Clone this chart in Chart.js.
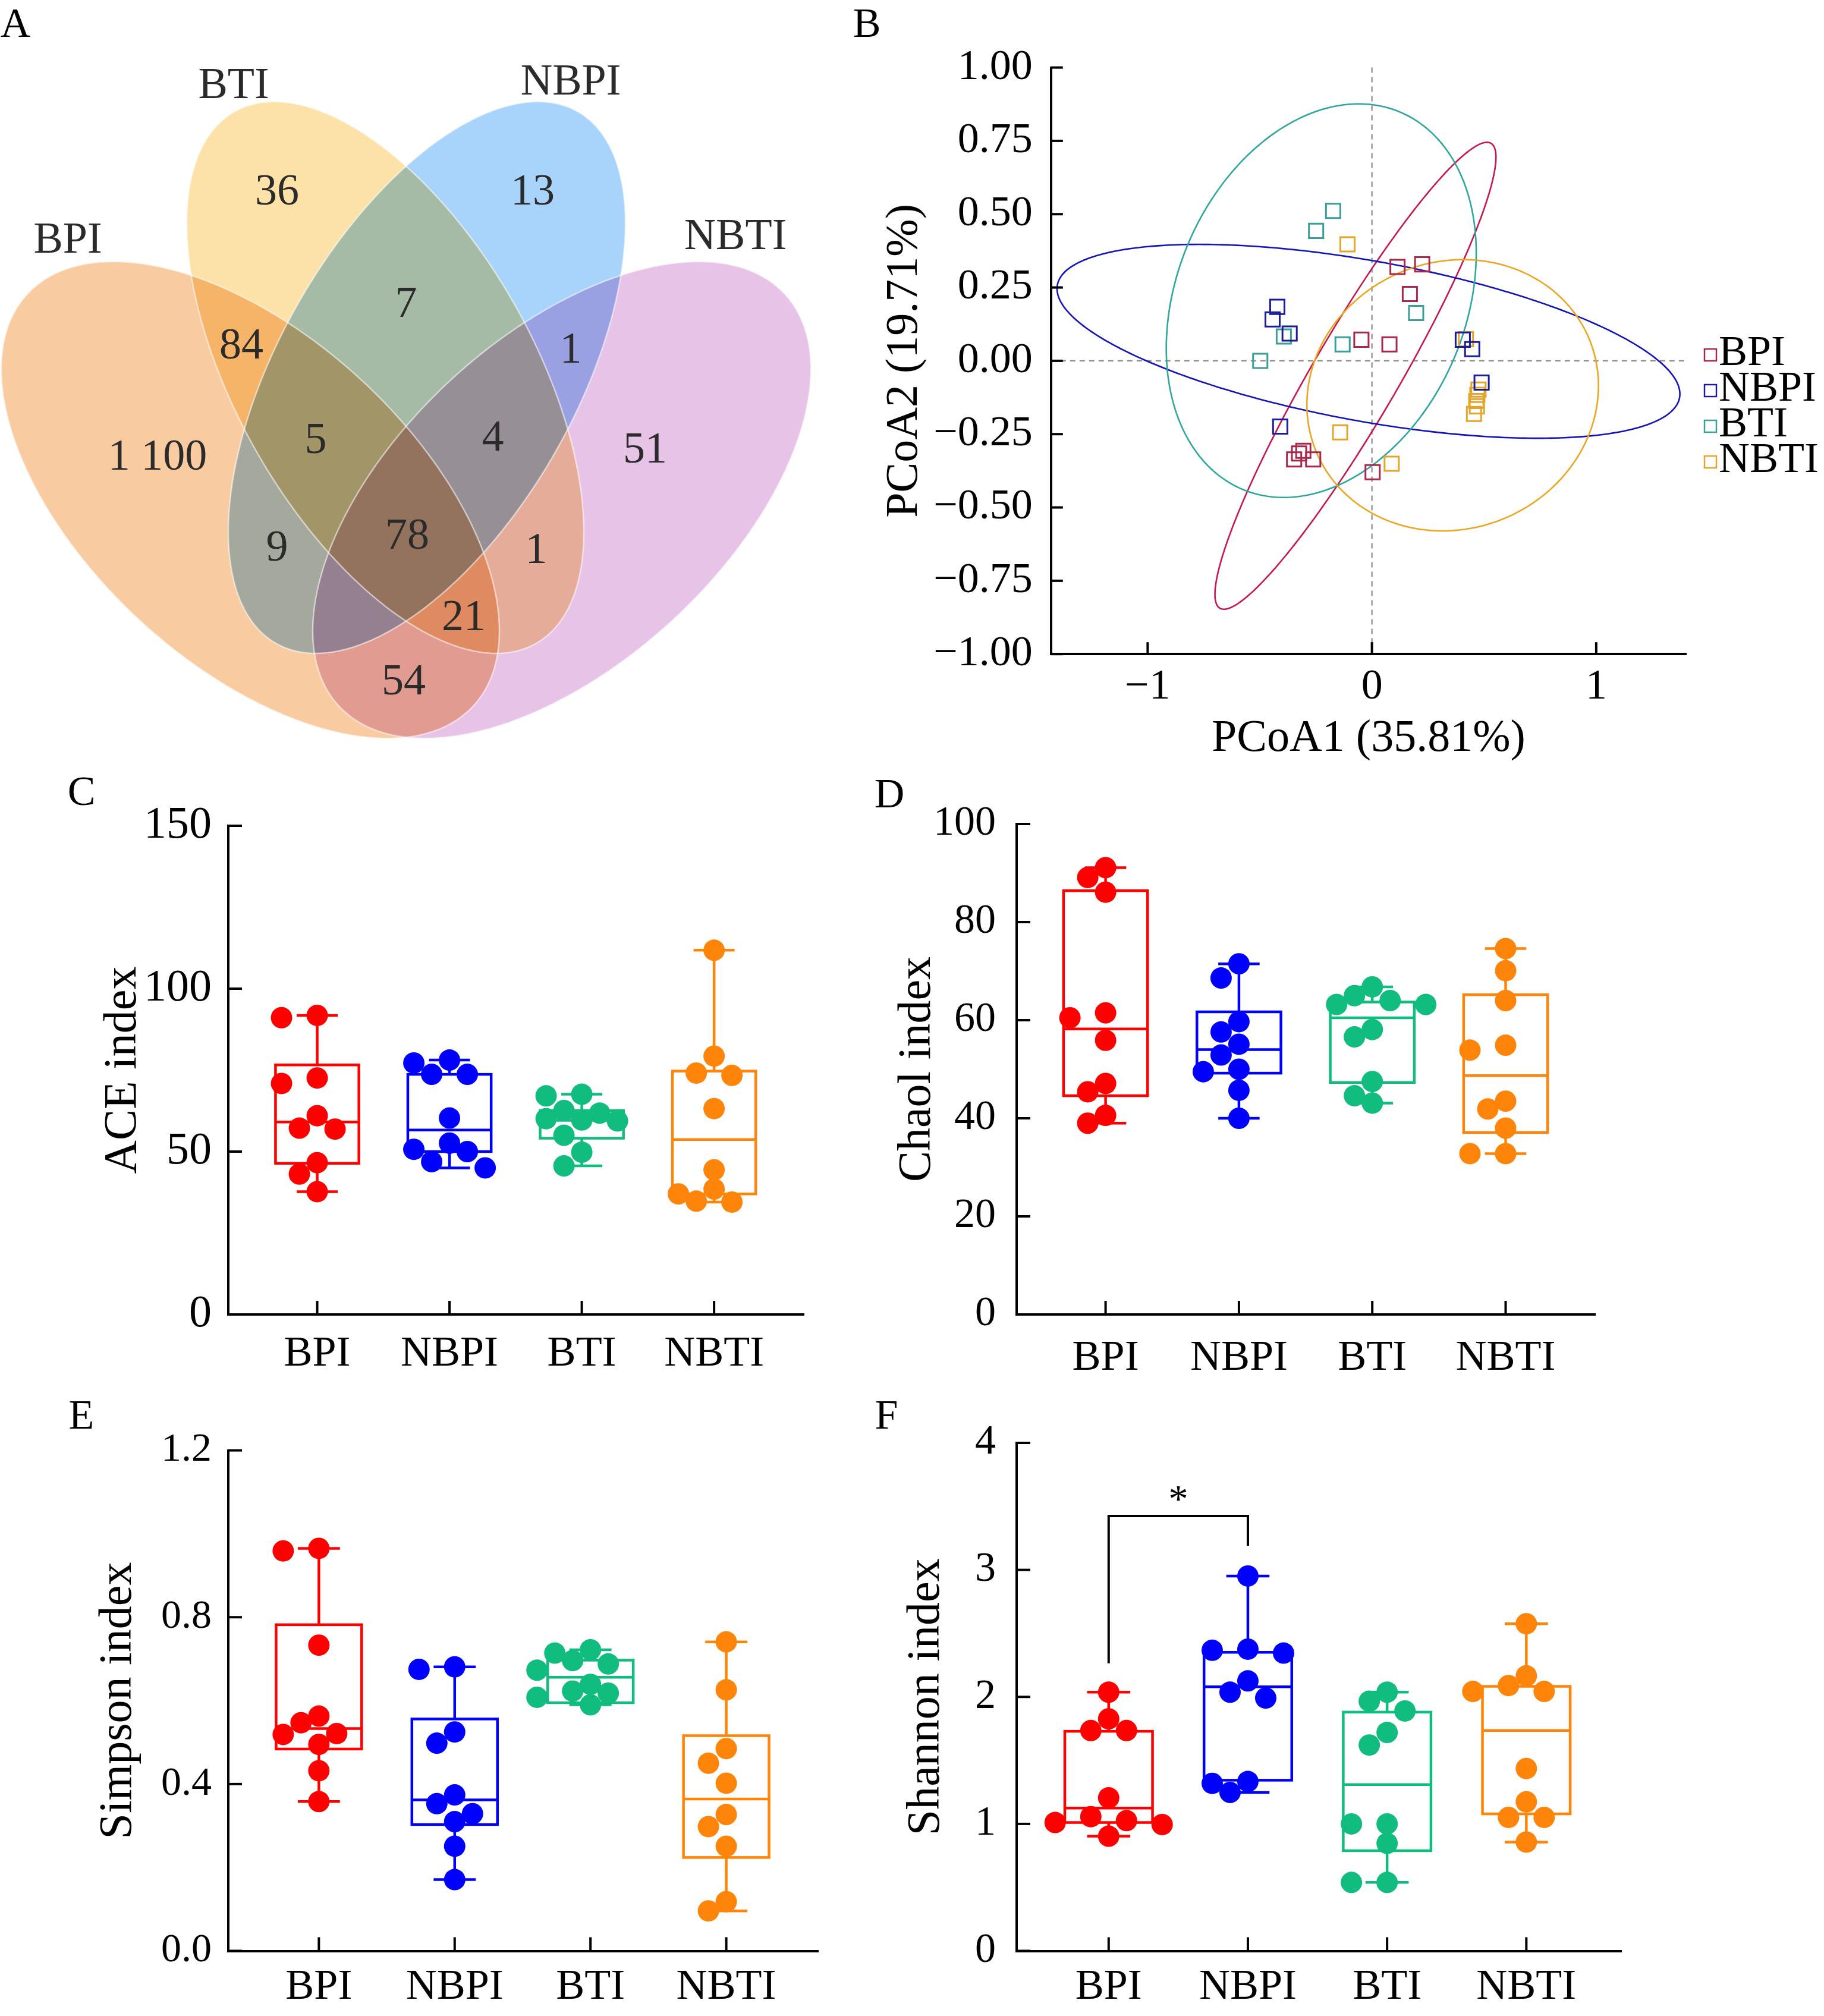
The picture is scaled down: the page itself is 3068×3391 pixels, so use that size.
<!DOCTYPE html>
<html><head><meta charset="utf-8">
<script src="https://cdn.jsdelivr.net/npm/chart.js@4.4.1/dist/chart.umd.min.js"></script>
<style>
html,body{margin:0;padding:0;background:#fff;}
body{width:3068px;height:3391px;position:relative;overflow:hidden;}
canvas{position:absolute;}
.lt{position:absolute;font-family:'Liberation Serif','Times New Roman',serif;font-size:70px;line-height:70px;color:#000;transform:translate(-50%,-50%);}
</style></head><body>
<canvas id="cA" width="1400" height="1260" style="left:0;top:0;width:1400px;height:1260px"></canvas>
<canvas id="cB" width="1618" height="1300" style="left:1450px;top:0;width:1618px;height:1300px"></canvas>
<canvas id="cC" width="1400" height="1050" style="left:0;top:1300px;width:1400px;height:1050px"></canvas>
<canvas id="cD" width="1618" height="1050" style="left:1450px;top:1300px;width:1618px;height:1050px"></canvas>
<canvas id="cE" width="1450" height="1041" style="left:0;top:2350px;width:1450px;height:1041px"></canvas>
<canvas id="cF" width="1618" height="1041" style="left:1450px;top:2350px;width:1618px;height:1041px"></canvas>
<div class="lt" style="left:26px;top:39px">A</div>
<div class="lt" style="left:1458px;top:39px">B</div>
<div class="lt" style="left:137px;top:1331px">C</div>
<div class="lt" style="left:1496px;top:1335px">D</div>
<div class="lt" style="left:137px;top:2380px">E</div>
<div class="lt" style="left:1491px;top:2380px">F</div>
<script>
// ================= DATA =================
const groups = ['BPI', 'NBPI', 'BTI', 'NBTI'];

// --- Venn (panel A)
const vennSets = ['BPI', 'BTI', 'NBPI', 'NBTI'];
const vennRegions = ['BTI', 'NBPI', 'BPI&BTI', 'BTI&NBPI', 'NBPI&NBTI', 'BPI', 'BPI&BTI&NBPI', 'BTI&NBPI&NBTI', 'NBTI', 'BPI&NBPI', 'ALL', 'BTI&NBTI', 'BPI&BTI&NBTI', 'BPI&NBTI'];
const vennCounts = [36, 13, 84, 7, 1, 1100, 5, 4, 51, 9, 78, 1, 21, 54];

// --- PCoA (panel B)
const pcoaBPI_x = [0.114, 0.224, 0.169, -0.047, 0.078, -0.347, -0.325, -0.306, -0.262, 0.003];
const pcoaBPI_y = [0.320, 0.329, 0.228, 0.072, 0.056, -0.336, -0.316, -0.307, -0.336, -0.380];
const pcoaNBPI_x = [-0.422, -0.443, -0.367, -0.409, 0.405, 0.447, 0.489];
const pcoaNBPI_y = [0.184, 0.141, 0.093, -0.224, 0.072, 0.040, -0.074];
const pcoaBTI_x = [-0.173, -0.249, -0.393, -0.498, -0.131, 0.197];
const pcoaBTI_y = [0.511, 0.443, 0.083, 0.000, 0.056, 0.163];
const pcoaNBTI_x = [-0.109, 0.419, 0.475, 0.470, 0.465, 0.468, 0.455, -0.142, 0.088];
const pcoaNBTI_y = [0.397, 0.074, -0.098, -0.116, -0.137, -0.155, -0.181, -0.244, -0.351];
const pcoaTicksX = [-1, 0, 1];
const pcoaTicksY = [-1, -0.75, -0.5, -0.25, 0, 0.25, 0.5, 0.75, 1];
// confidence ellipses: centre, half-extents and phase (x = cx + A cos t, y = cy + B cos(t - phi))
const ellBPI = {cx: -0.0735, cy: -0.051, A: 0.6265, B: 0.796, phi: 20.6};
const ellNBPI = {cx: -0.0155, cy: 0.0665, A: 1.3885, B: 0.3305, phi: 122.9};
const ellBTI = {cx: -0.226, cy: 0.205, A: 0.691, B: 0.671, phi: 76};
const ellNBTI = {cx: 0.36, cy: -0.1175, A: 0.65, B: 0.4625, phi: 86};

// --- ACE (panel C)
const aceBPI = [91.8, 91.1, 72.6, 70.9, 61.0, 57.2, 56.9, 46.6, 43.1, 37.7];
const aceNBPI = [78.1, 77.2, 73.7, 73.7, 60.3, 52.6, 50.7, 50.0, 46.9, 45.0];
const aceBTI = [67.6, 67.1, 62.6, 61.8, 60.1, 59.7, 59.4, 55.0, 49.8, 45.6];
const aceNBTI = [111.8, 79.3, 74.1, 73.4, 63.2, 44.4, 38.5, 37.0, 34.8, 34.5];
const aceQ1 = [46.4, 50.0, 54.1, 37.0];
const aceMed = [59.1, 56.6, 59.6, 53.7];
const aceQ3 = [76.6, 73.7, 62.6, 74.7];
const aceTicks = [0, 50, 100, 150];

// --- Chao1 (panel D)
const chaoBPI = [91.1, 89.1, 86.1, 61.5, 60.5, 55.9, 47.1, 45.4, 40.6, 39.0];
const chaoNBPI = [71.5, 68.6, 59.7, 57.6, 55.1, 52.9, 50.0, 49.5, 45.7, 40.0];
const chaoBTI = [66.8, 65.0, 64.0, 63.2, 63.2, 58.1, 56.6, 47.5, 44.6, 43.1];
const chaoNBTI = [74.6, 70.1, 64.0, 54.9, 53.9, 43.5, 41.9, 38.0, 32.8, 32.8];
const chaoQ1 = [44.6, 49.2, 47.3, 37.1];
const chaoMed = [58.2, 54.0, 60.5, 48.7];
const chaoQ3 = [86.4, 61.7, 63.7, 65.2];
const chaoTicks = [0, 20, 40, 60, 80, 100];

// --- Simpson (panel E)
const simBPI = [0.965, 0.959, 0.733, 0.563, 0.547, 0.521, 0.519, 0.495, 0.432, 0.358];
const simNBPI = [0.681, 0.675, 0.525, 0.498, 0.374, 0.353, 0.329, 0.310, 0.251, 0.171];
const simBTI = [0.722, 0.714, 0.696, 0.688, 0.673, 0.639, 0.623, 0.618, 0.608, 0.590];
const simNBTI = [0.741, 0.626, 0.485, 0.450, 0.402, 0.327, 0.298, 0.251, 0.118, 0.096];
const simQ1 = [0.484, 0.303, 0.595, 0.224];
const simMed = [0.533, 0.362, 0.656, 0.364];
const simQ3 = [0.782, 0.556, 0.697, 0.516];
const simTicks = [0, 0.4, 0.8, 1.2];

// --- Shannon (panel F)
const shaBPI = [2.037, 1.827, 1.735, 1.735, 1.205, 1.057, 1.026, 1.011, 0.995, 0.903];
const shaNBPI = [2.952, 2.376, 2.367, 2.345, 2.126, 2.037, 1.991, 1.334, 1.319, 1.248];
const shaBTI = [2.037, 1.966, 1.889, 1.720, 1.621, 1.000, 1.000, 0.847, 0.539, 0.539];
const shaNBTI = [2.576, 2.166, 2.089, 2.043, 2.043, 1.436, 1.174, 1.051, 1.051, 0.857];
const shaQ1 = [1.011, 1.344, 0.789, 1.079];
const shaMed = [1.125, 2.080, 1.310, 1.735];
const shaQ3 = [1.729, 2.351, 1.880, 2.083];
const shaTicks = [0, 1, 2, 3, 4];
const shaSig = {from: 0, to: 1, leftLow: 2.265, rightLow: 3.19, top: 3.424, label: '*'};

// ================= STYLE / LAYOUT =================
const SERIF = "'Liberation Serif','Times New Roman',serif";
Chart.defaults.font.family = SERIF;
Chart.defaults.color = '#000';
const boxColors = ['#FF0000', '#0000FF', '#10BD7E', '#FF850A'];
const pcoaPointColors = ['#A8284C', '#1C1C99', '#3A9E9A', '#E3A52C'];
const pcoaLineColors = ['#C8174D', '#1414B8', '#2FA6A0', '#EBA622'];
const vennFills = ['#F9CBA0', '#FCE2A8', '#A8D3FA', '#E8C3E8'];
// Venn ellipse geometry (canvas px, y downward)
const vennShapes = [
  {cx: 421, cy: 841, A: 419, B: 401, phi: 56.7},
  {cx: 648, cy: 635, A: 334, B: 464, phi: 56},
  {cx: 718, cy: 635, A: 334, B: 464, phi: 236},
  {cx: 945, cy: 841, A: 419, B: 401, phi: 236.7}
];
const vennCountPos = [[466,325],[896,325],[406,584],[683,514],[960,591],[265,771],[531,743],[829,739],[1085,759],[466,924],[685,904],[902,928],[780,1041],[679,1149]];
const vennSetPos = [[114,406],[393,146],[960,140],[1237,400]];

// ================= HELPERS =================
function fmtThousands(n) { return String(n).replace(/\B(?=(\d{3})+(?!\d))/g, ' '); }
function minus(s) { return s.replace('-', '\u2212'); }

function swarm(values, pxPerUnit, catPx, slotPx, minDist) {
  const order = values.map((v, i) => i).sort((a, b) => values[b] - values[a]);
  const placed = [];
  const off = new Array(values.length).fill(0);
  for (const i of order) {
    const py = values[i] * pxPerUnit;
    for (let k = 0; k < 30; k++) {
      const s = k === 0 ? 0 : (k % 2 ? -Math.ceil(k / 2) : Math.ceil(k / 2));
      const px = s * slotPx;
      if (placed.every(p => Math.hypot(p.x - px, p.y - py) >= minDist)) {
        placed.push({x: px, y: py}); off[i] = px / catPx; break;
      }
    }
  }
  return off;
}

function inTicks(len, w) {
  return {id: 'inTicks', afterDatasetsDraw(chart) {
    const {ctx, chartArea: a, scales: {x, y}} = chart;
    ctx.save(); ctx.strokeStyle = '#000'; ctx.lineWidth = w;
    y.ticks.forEach(t => { const p = y.getPixelForValue(t.value); ctx.beginPath(); ctx.moveTo(a.left, p); ctx.lineTo(a.left + len, p); ctx.stroke(); });
    x.ticks.forEach(t => { const p = x.getPixelForValue(t.value); ctx.beginPath(); ctx.moveTo(p, a.bottom); ctx.lineTo(p, a.bottom - len); ctx.stroke(); });
    ctx.restore();
  }};
}

function boxPlugin(stats, half, cap, lw) {
  return {id: 'boxes', beforeDatasetsDraw(chart) {
    const {ctx, scales: {x, y}} = chart;
    ctx.save(); ctx.lineWidth = lw; ctx.lineCap = 'butt';
    const line = (x1, y1, x2, y2) => { ctx.beginPath(); ctx.moveTo(x1, y1); ctx.lineTo(x2, y2); ctx.stroke(); };
    stats.forEach((s, i) => {
      ctx.strokeStyle = s.color;
      const xl = x.getPixelForValue(i - half), xr = x.getPixelForValue(i + half), xc = x.getPixelForValue(i);
      const cl = x.getPixelForValue(i - cap), cr = x.getPixelForValue(i + cap);
      const y1 = y.getPixelForValue(s.q1), y3 = y.getPixelForValue(s.q3), ym = y.getPixelForValue(s.med);
      const ylo = y.getPixelForValue(s.lo), yhi = y.getPixelForValue(s.hi);
      line(xc, y3, xc, yhi); line(xc, y1, xc, ylo);
      line(cl, yhi, cr, yhi); line(cl, ylo, cr, ylo);
      ctx.strokeRect(xl, y3, xr - xl, y1 - y3);
      line(xl, ym, xr, ym);
    });
    ctx.restore();
  }};
}

function boxPanel(c) {
  const L = c.L;
  const pxPerUnit = (L.bottom - L.top) / (c.yMax - c.yMin);
  const catPx = (L.right - L.left) / (c.xMax - c.xMin);
  const datasets = c.vals.map((arr, i) => {
    const off = swarm(arr, pxPerUnit, catPx, 30, 32);
    return {label: groups[i], data: arr.map((v, j) => ({x: i + off[j], y: v})),
      backgroundColor: boxColors[i], borderWidth: 0, pointRadius: 18, pointHoverRadius: 18};
  });
  const stats = groups.map((g, i) => ({color: boxColors[i], q1: c.q1[i], med: c.med[i], q3: c.q3[i],
    lo: Math.min(...c.vals[i]), hi: Math.max(...c.vals[i])}));
  return new Chart(document.getElementById(c.id), {
    type: 'scatter',
    data: {datasets},
    options: {
      responsive: false, animation: false, devicePixelRatio: 1, events: [],
      layout: {padding: {left: 0, top: L.top, right: L.W - L.right, bottom: 0}},
      plugins: {legend: {display: false}, tooltip: {enabled: false}},
      scales: {
        x: {type: 'linear', min: c.xMin, max: c.xMax,
          afterBuildTicks: s => { s.ticks = groups.map((g, i) => ({value: i})); },
          afterFit: s => { s.height = L.H - L.bottom; },
          grid: {display: false, drawTicks: false},
          border: {display: true, color: '#000', width: 4},
          ticks: {callback: v => groups[v], font: {size: 72}, color: '#000', padding: c.xPad, autoSkip: false, maxRotation: 0}},
        y: {type: 'linear', min: c.yMin, max: c.yMax,
          afterBuildTicks: s => { s.ticks = c.yTicks.map(v => ({value: v})); },
          afterFit: s => { s.width = L.left; },
          grid: {display: false, drawTicks: false},
          border: {display: true, color: '#000', width: 4},
          ticks: {callback: c.fmt, font: {size: c.tickSize}, color: '#000', padding: c.yPad},
          title: {display: true, text: c.yTitle, color: '#000', font: {size: 78}, padding: {top: c.titlePad, bottom: 0}}}
      }
    },
    plugins: [boxPlugin(stats, 0.315, 0.155, 4.5), inTicks(23, 4)].concat(c.extra || [])
  });
}

// ================= PANEL A: Venn =================
const vennPlugin = {
  id: 'venn',
  beforeDatasetsDraw(chart) {
    const {ctx, scales: {x, y}} = chart;
    const path = s => {
      ctx.beginPath();
      for (let k = 0; k <= 360; k++) {
        const t = k * Math.PI / 180;
        const px = x.getPixelForValue(s.cx + s.A * Math.cos(t));
        const py = y.getPixelForValue(s.cy + s.B * Math.cos(t - s.phi * Math.PI / 180));
        if (k) ctx.lineTo(px, py); else ctx.moveTo(px, py);
      }
      ctx.closePath();
    };
    ctx.save();
    ctx.globalCompositeOperation = 'multiply';
    vennShapes.forEach((s, i) => { path(s); ctx.fillStyle = vennFills[i]; ctx.fill(); });
    ctx.globalCompositeOperation = 'source-over';
    ctx.strokeStyle = 'rgba(255,255,255,0.55)'; ctx.lineWidth = 2.5;
    vennShapes.forEach(s => { path(s); ctx.stroke(); });
    ctx.restore();
  },
  afterDatasetsDraw(chart) {
    const ctx = chart.ctx;
    ctx.save();
    ctx.fillStyle = '#2b2b2b'; ctx.textAlign = 'center'; ctx.textBaseline = 'middle';
    ctx.font = '74px ' + SERIF;
    chart.getDatasetMeta(0).data.forEach((pt, i) => ctx.fillText(fmtThousands(vennCounts[i]), pt.x, pt.y));
    chart.getDatasetMeta(1).data.forEach((pt, i) => ctx.fillText(vennSets[i], pt.x, pt.y));
    ctx.restore();
  }
};
new Chart(document.getElementById('cA'), {
  type: 'scatter',
  data: {datasets: [
    {label: 'counts', data: vennCounts.map((n, i) => ({x: vennCountPos[i][0], y: vennCountPos[i][1]})), pointRadius: 0},
    {label: 'sets', data: vennSets.map((n, i) => ({x: vennSetPos[i][0], y: vennSetPos[i][1]})), pointRadius: 0}
  ]},
  options: {
    responsive: false, animation: false, devicePixelRatio: 1, events: [],
    layout: {padding: 0},
    plugins: {legend: {display: false}, tooltip: {enabled: false}},
    scales: {x: {type: 'linear', min: 0, max: 1400, display: false}, y: {type: 'linear', min: 0, max: 1260, reverse: true, display: false}}
  },
  plugins: [vennPlugin]
});

// ================= PANEL B: PCoA =================
const pcoaX = [pcoaBPI_x, pcoaNBPI_x, pcoaBTI_x, pcoaNBTI_x];
const pcoaY = [pcoaBPI_y, pcoaNBPI_y, pcoaBTI_y, pcoaNBTI_y];
const pcoaEll = [ellBPI, ellNBPI, ellBTI, ellNBTI];
const pcoaPlugin = {
  id: 'pcoa',
  beforeDatasetsDraw(chart) {
    const {ctx, chartArea: a, scales: {x, y}} = chart;
    ctx.save();
    ctx.setLineDash([9, 7]); ctx.strokeStyle = '#8a8a8a'; ctx.lineWidth = 2.2;
    const x0 = x.getPixelForValue(0), y0 = y.getPixelForValue(0);
    ctx.beginPath(); ctx.moveTo(x0, a.top); ctx.lineTo(x0, a.bottom); ctx.stroke();
    ctx.beginPath(); ctx.moveTo(a.left, y0); ctx.lineTo(a.right, y0); ctx.stroke();
    ctx.setLineDash([]);
    ctx.lineWidth = 2.6;
    pcoaEll.forEach((e, i) => {
      ctx.strokeStyle = pcoaLineColors[i];
      ctx.beginPath();
      for (let k = 0; k <= 360; k++) {
        const t = k * Math.PI / 180;
        const px = x.getPixelForValue(e.cx + e.A * Math.cos(t));
        const py = y.getPixelForValue(e.cy + e.B * Math.cos(t - e.phi * Math.PI / 180));
        if (k) ctx.lineTo(px, py); else ctx.moveTo(px, py);
      }
      ctx.closePath(); ctx.stroke();
    });
    ctx.restore();
  },
  afterDraw(chart) {
    const ctx = chart.ctx;
    ctx.save();
    ctx.font = '72px ' + SERIF; ctx.textBaseline = 'middle'; ctx.textAlign = 'left'; ctx.fillStyle = '#000';
    chart.data.datasets.forEach((ds, i) => {
      const yc = 595 + i * 60;
      ctx.strokeStyle = ds.borderColor; ctx.lineWidth = 2.5;
      ctx.strokeRect(1417, yc - 8, 20, 20);
      ctx.fillText(ds.label, 1441, yc);
    });
    ctx.restore();
  }
};
new Chart(document.getElementById('cB'), {
  type: 'scatter',
  data: {datasets: groups.map((g, i) => ({
    label: g, data: pcoaX[i].map((v, j) => ({x: v, y: pcoaY[i][j]})),
    pointStyle: 'rect', pointRadius: 17, pointHoverRadius: 17,
    borderColor: pcoaPointColors[i], backgroundColor: 'rgba(0,0,0,0)', borderWidth: 3
  }))},
  options: {
    responsive: false, animation: false, devicePixelRatio: 1, events: [],
    layout: {padding: {left: 0, top: 113.6, right: 232, bottom: 0}},
    plugins: {legend: {display: false}, tooltip: {enabled: false}},
    scales: {
      x: {type: 'linear', min: -1.431, max: 1.4006,
        afterBuildTicks: s => { s.ticks = pcoaTicksX.map(v => ({value: v})); },
        afterFit: s => { s.height = 199.8; },
        grid: {display: false, drawTicks: false}, border: {display: true, color: '#000', width: 4},
        ticks: {font: {size: 72}, color: '#000', padding: 13, callback: v => minus(String(v))},
        title: {display: true, text: 'PCoA1 (35.81%)', color: '#000', font: {size: 76}, padding: {top: 0, bottom: 11}}},
      y: {type: 'linear', min: -1, max: 1,
        afterBuildTicks: s => { s.ticks = pcoaTicksY.map(v => ({value: v})); },
        afterFit: s => { s.width = 317.8; },
        grid: {display: false, drawTicks: false}, border: {display: true, color: '#000', width: 4},
        ticks: {font: {size: 72}, color: '#000', padding: 31, callback: v => minus(v.toFixed(2))},
        title: {display: true, text: 'PCoA2 (19.71%)', color: '#000', font: {size: 76}, padding: {top: 26, bottom: 0}}}
    }
  },
  plugins: [pcoaPlugin, inTicks(20, 4)]
});

// ================= PANELS C-F: box plots =================
boxPanel({id: 'cC', L: {W: 1400, H: 1050, left: 384, right: 1352, top: 89, bottom: 911},
  vals: [aceBPI, aceNBPI, aceBTI, aceNBTI], q1: aceQ1, med: aceMed, q3: aceQ3, yTicks: aceTicks,
  yMin: 0, yMax: 150, xMin: -0.672, xMax: 3.678, yTitle: 'ACE index', fmt: v => String(v),
  tickSize: 76, yPad: 28, xPad: 24, titlePad: 161});

boxPanel({id: 'cD', L: {W: 1618, H: 1050, left: 260, right: 1233, top: 86, bottom: 911},
  vals: [chaoBPI, chaoNBPI, chaoBTI, chaoNBTI], q1: chaoQ1, med: chaoMed, q3: chaoQ3, yTicks: chaoTicks,
  yMin: 0, yMax: 100, xMin: -0.667, xMax: 3.671, yTitle: 'Chaol index', fmt: v => String(v),
  tickSize: 70, yPad: 35, xPad: 31, titlePad: 47});

boxPanel({id: 'cE', L: {W: 1450, H: 1041, left: 384, right: 1376, top: 89.6, bottom: 931.5},
  vals: [simBPI, simNBPI, simBTI, simNBTI], q1: simQ1, med: simMed, q3: simQ3, yTicks: simTicks,
  yMin: 0, yMax: 1.2, xMin: -0.667, xMax: 3.676, yTitle: 'Simpson index', fmt: v => v.toFixed(1),
  tickSize: 68, yPad: 28, xPad: 18, titlePad: 153});

const sigPlugin = {
  id: 'sig',
  afterDatasetsDraw(chart) {
    const {ctx, scales: {x, y}} = chart;
    const s = shaSig;
    const xa = x.getPixelForValue(s.from), xb = x.getPixelForValue(s.to);
    ctx.save(); ctx.strokeStyle = '#000'; ctx.lineWidth = 4;
    ctx.beginPath();
    ctx.moveTo(xa, y.getPixelForValue(s.leftLow)); ctx.lineTo(xa, y.getPixelForValue(s.top));
    ctx.lineTo(xb, y.getPixelForValue(s.top)); ctx.lineTo(xb, y.getPixelForValue(s.rightLow));
    ctx.stroke();
    ctx.fillStyle = '#000'; ctx.font = '66px ' + SERIF; ctx.textAlign = 'center'; ctx.textBaseline = 'middle';
    ctx.fillText(s.label, (xa + xb) / 2, y.getPixelForValue(s.top) - 24);
    ctx.restore();
  }
};
boxPanel({id: 'cF', L: {W: 1618, H: 1041, left: 260, right: 1277.5, top: 69.7, bottom: 931.5},
  vals: [shaBPI, shaNBPI, shaBTI, shaNBTI], q1: shaQ1, med: shaMed, q3: shaQ3, yTicks: shaTicks,
  yMin: 0, yMax: 4, xMin: -0.661, xMax: 3.684, yTitle: 'Shannon index', fmt: v => String(v),
  tickSize: 70, yPad: 35, xPad: 18, titlePad: 62, extra: [sigPlugin]});
</script>
</body></html>
